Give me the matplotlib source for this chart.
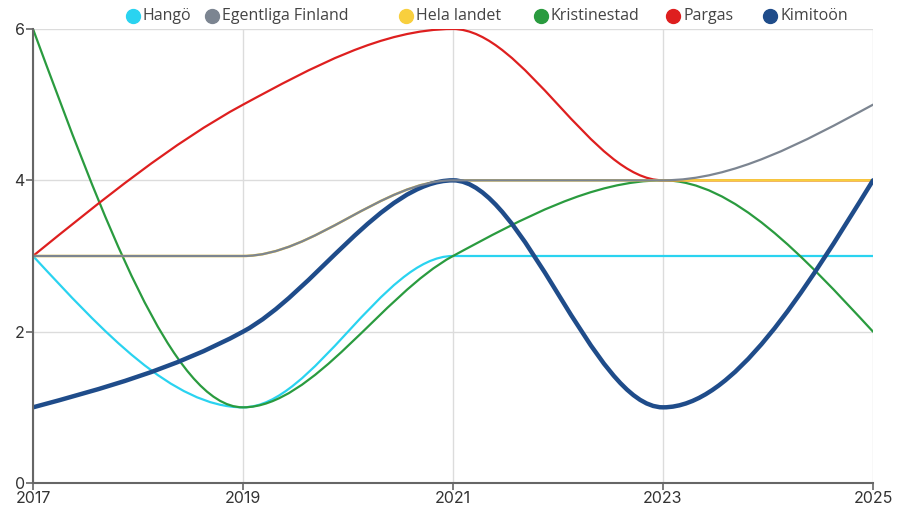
import numpy as np
import matplotlib
matplotlib.use("Agg")
import matplotlib.pyplot as plt
from matplotlib.path import Path
from matplotlib.patches import PathPatch
from matplotlib.lines import Line2D

years = [2017, 2019, 2021, 2023, 2025]

hango = [3, 1, 3, 3, 3]
egentliga = [3, 3, 4, 4, 5]
hela = [3, 3, 4, 4, 4]
kristinestad = [6, 1, 3, 4, 2]
pargas = [3, 5, 6, 4, 4]
kimitoon = [1, 2, 4, 1, 4]

series_names = ["Hangö", "Egentliga Finland", "Hela landet", "Kristinestad", "Pargas", "Kimitoön"]
series_values = [hango, egentliga, hela, kristinestad, pargas, kimitoon]
colors = ["#2ad3f0", "#7c8591", "#f8cf3e", "#2a9b3f", "#de1f1f", "#1f4c8a"]
widths = [1.6, 1.6, 1.8, 1.6, 1.6, 3.2]
zorders = [3, 6, 4.5, 3.5, 4, 5.5]

plt.rcParams['font.family'] = ['Roboto', 'DejaVu Sans']


def monotone_path(x, y):
    # same idea as d3 curveMonotoneX: cubic bezier between data points
    x = np.asarray(x, float)
    y = np.asarray(y, float)
    n = len(x)
    t = np.zeros(n)
    for i in range(1, n - 1):
        h0 = x[i] - x[i - 1]
        h1 = x[i + 1] - x[i]
        s0 = (y[i] - y[i - 1]) / h0
        s1 = (y[i + 1] - y[i]) / h1
        p = (s0 * h1 + s1 * h0) / (h0 + h1)
        t[i] = (np.sign(s0) + np.sign(s1)) * min(abs(s0), abs(s1), 0.5 * abs(p))
    h = x[1] - x[0]
    t[0] = (3 * (y[1] - y[0]) / h - t[1]) / 2
    h = x[-1] - x[-2]
    t[-1] = (3 * (y[-1] - y[-2]) / h - t[-2]) / 2
    verts = [(x[0], y[0])]
    codes = [Path.MOVETO]
    for i in range(n - 1):
        dx = (x[i + 1] - x[i]) / 3
        verts += [(x[i] + dx, y[i] + dx * t[i]),
                  (x[i + 1] - dx, y[i + 1] - dx * t[i + 1]),
                  (x[i + 1], y[i + 1])]
        codes += [Path.CURVE4] * 3
    return Path(verts, codes)


fig = plt.figure(figsize=(8.97, 5.11), dpi=100)
ax = fig.add_axes([33 / 897, 28 / 511, 840 / 897, 454 / 511])

for vals, c, lw, z in zip(series_values, colors, widths, zorders):
    patch = PathPatch(monotone_path(years, vals), facecolor='none', edgecolor=c,
                      linewidth=lw, zorder=z, capstyle='round', joinstyle='round')
    ax.add_patch(patch)

ax.set_xlim(2017, 2025)
ax.set_ylim(0, 6)
ax.set_xticks(years)
ax.set_xticklabels([str(v) for v in years])
ax.set_yticks([0, 2, 4, 6])

ax.grid(True, color='#dcdcdc', linewidth=1.0, zorder=0)
ax.set_axisbelow(True)
for side in ['top', 'right']:
    ax.spines[side].set_visible(False)
for side in ['left', 'bottom']:
    ax.spines[side].set_color('#666666')
    ax.spines[side].set_linewidth(1.5)
    ax.spines[side].set_zorder(7)

ax.tick_params(axis='both', colors='#666666', length=5, width=1.2,
               labelcolor='#333333', labelsize=11.5, pad=1)
for lbl in ax.get_xticklabels() + ax.get_yticklabels():
    lbl.set_family(['Inter', 'DejaVu Sans'])

# legend across the top
leg_x = [133, 212, 406, 541, 673, 770]
for name, c, lx in zip(series_names, colors, leg_x):
    fig.add_artist(Line2D([lx / 897], [1 - 16 / 511], marker='o', markersize=10,
                          color=c, linestyle='none', transform=fig.transFigure))
    fig.text((lx + 10) / 897, 1 - 16.5 / 511, name, fontsize=11.5, color='#444444',
             va='center', ha='left', family=['Open Sans', 'DejaVu Sans'])

fig.savefig('out.png', dpi=100, facecolor='white')
